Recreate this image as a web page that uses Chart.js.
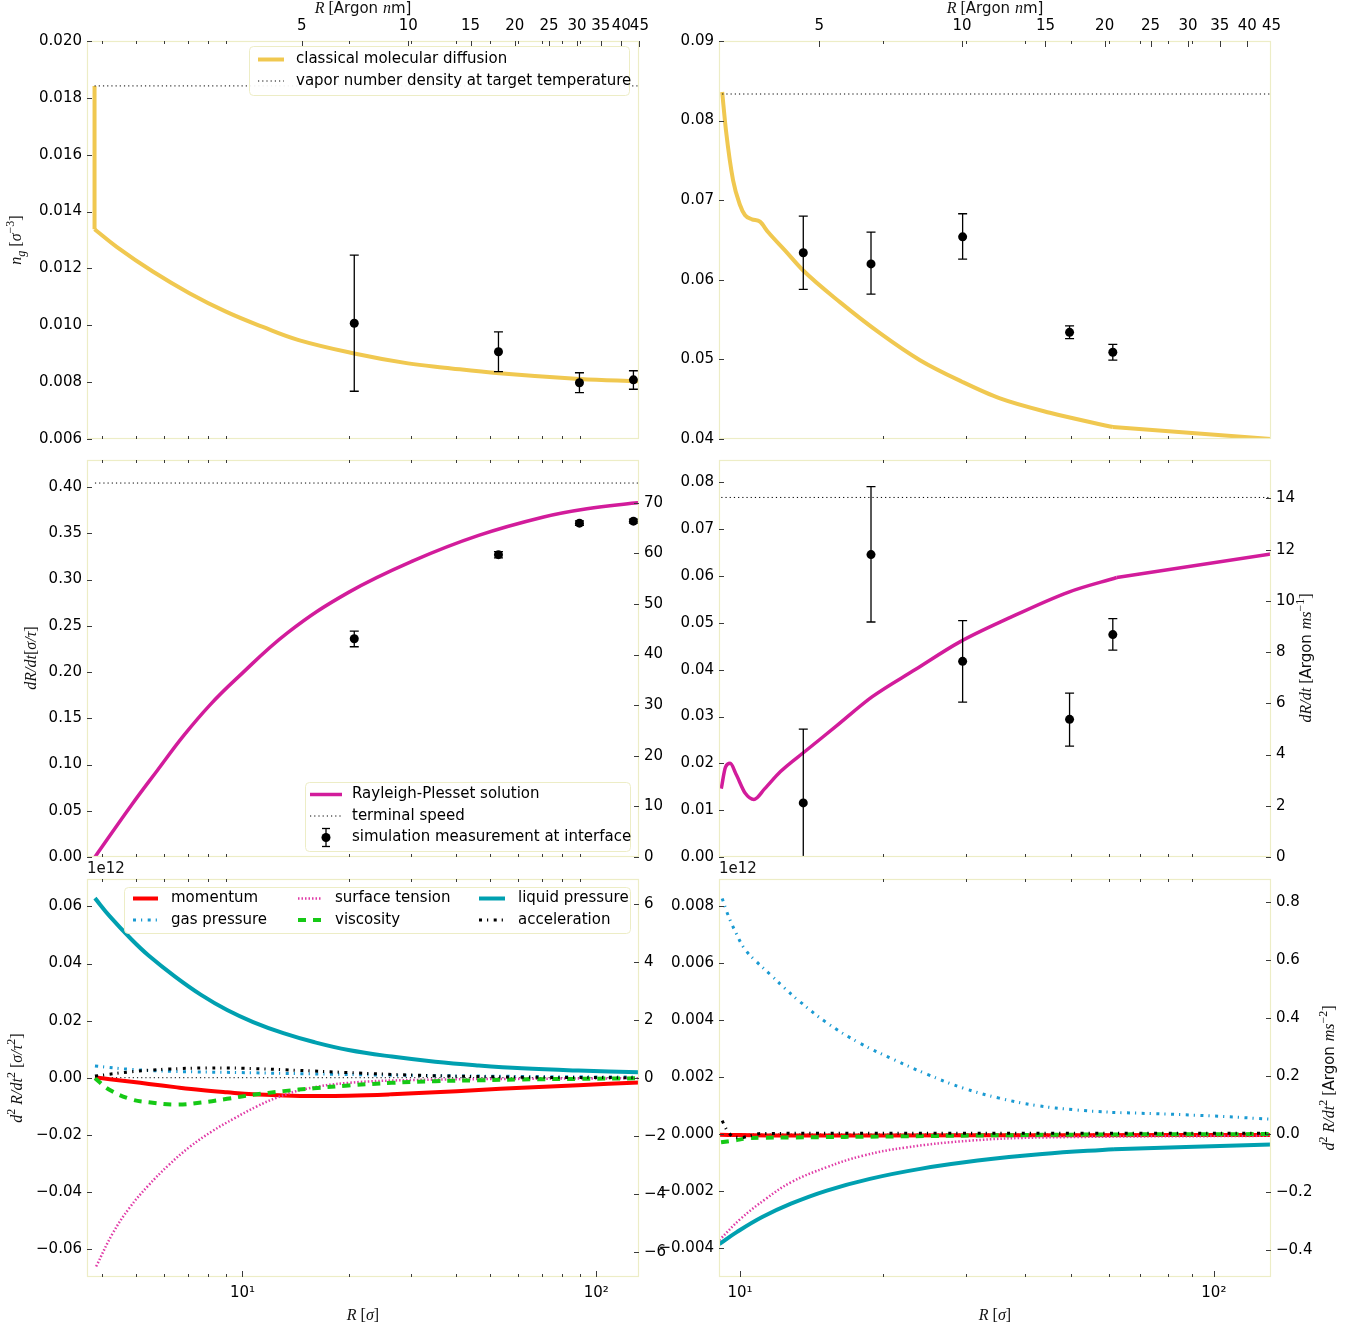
<!DOCTYPE html>
<html>
<head>
<meta charset="utf-8">
<title>Bubble growth – Rayleigh-Plesset</title>
<script src="https://cdn.jsdelivr.net/npm/chart.js@4.4.1/dist/chart.umd.min.js"></script>
<style>
html,body{margin:0;padding:0;background:#fff;}
#wrap{position:relative;width:1364px;height:1332px;overflow:hidden;background:#fff;}
#wrap canvas{position:absolute;left:0;top:0;}
</style>
</head>
<body>
<div id="wrap"></div>
<script>
// ================= DATA =================
const SIGMA_TO_NM = 0.34;      // 1 sigma (argon) in nm
const VEL_FACTOR = 182.8;      // sigma/tau -> m/s
const ACC_FACTOR = 98.5;       // sigma/tau^2 -> 1e12 m/s^2

const X_MAJOR = [10, 100];
const X_MAJOR_LABELS = ['10\u00B9', '10\u00B2'];
const X_MINOR = [4, 5, 6, 7, 8, 9, 20, 30, 40, 50, 60, 70, 80, 90];
const NM_TICKS = [5, 10, 15, 20, 25, 30, 35, 40, 45];

// (a) top-left: vapour number density
const aJumpR = [3.82, 3.82];
const aJumpN = [0.01842, 0.01338];
const aCmdR = [3.82, 4.41, 5.58, 7.08, 8.98, 11.37, 14.42, 20.70, 29.38, 37.25, 53.19, 89.6, 132];
const aCmdN = [0.01338, 0.01276, 0.01189, 0.01113, 0.01048, 0.00995, 0.00948, 0.00901, 0.00866, 0.00851, 0.00831, 0.00811, 0.00803];
const aVaporR = [3.82, 132];
const aVapor = 0.01842;
const aSimR = [20.7, 52.9, 89.6, 127.3];
const aSimN = [0.01007, 0.00907, 0.00798, 0.00808];
const aSimLo = [0.00768, 0.00837, 0.00763, 0.00775];
const aSimHi = [0.01247, 0.00977, 0.00833, 0.00840];
const aTicks = [0.006, 0.008, 0.010, 0.012, 0.014, 0.016, 0.018, 0.020];

// (b) top-right: vapour number density
const bCmdR = [9.17, 9.34, 9.67, 10.0, 10.25, 10.60, 11.02, 11.46, 12.44, 13.58, 16.25, 19.74, 23.98, 29.40, 35.37, 45.08, 61.22];
const bCmdN = [0.0836, 0.0788, 0.0725, 0.0694, 0.0681, 0.0676, 0.0673, 0.0660, 0.0637, 0.0612, 0.0572, 0.0533, 0.0499, 0.0472, 0.0451, 0.0433, 0.0415];
const bTailR = [61.22, 132];
const bTailN = [0.0415, 0.0400];
const bVaporR = [9.17, 132];
const bVapor = 0.08334;
const bSimR = [13.6, 18.9, 29.5, 49.6, 61.2];
const bSimN = [0.0634, 0.0620, 0.0654, 0.0534, 0.0509];
const bSimLo = [0.0588, 0.0582, 0.0626, 0.0526, 0.0499];
const bSimHi = [0.0680, 0.0660, 0.0683, 0.0542, 0.0519];
const bTicks = [0.04, 0.05, 0.06, 0.07, 0.08, 0.09];

// (c) middle-left: interface speed
const cRpR = [3.83, 4.86, 5.76, 6.82, 8.10, 9.57, 13.43, 19.94, 30.45, 46.50, 70.98, 94.1, 128.4, 132];
const cRpV = [0.0, 0.0562, 0.0941, 0.1312, 0.1645, 0.1920, 0.2426, 0.2861, 0.3204, 0.3477, 0.3676, 0.3765, 0.3827, 0.3830];
const cTermR = [3.83, 132];
const cTerminal = 0.4043;
const cSimR = [20.7, 52.9, 89.6, 127.3];
const cSimV = [0.2360, 0.3269, 0.3609, 0.3631];
const cSimLo = [0.2273, 0.3233, 0.3585, 0.3610];
const cSimHi = [0.2443, 0.3302, 0.3633, 0.3652];
const cTicks = [0, 0.05, 0.10, 0.15, 0.20, 0.25, 0.30, 0.35, 0.40];
const cTicks2 = [0, 10, 20, 30, 40, 50, 60, 70];

// (d) middle-right: interface speed
const dRpR = [9.13, 9.32, 9.53, 9.83, 10.26, 10.70, 11.28, 12.16, 13.81, 16.03, 18.99, 23.49, 29.05, 36.70, 49.40, 62.39];
const dRpV = [0.0146, 0.0192, 0.0200, 0.0175, 0.0136, 0.0123, 0.0146, 0.0182, 0.0228, 0.0281, 0.0342, 0.0401, 0.0459, 0.0509, 0.0566, 0.0597];
const dTailR = [62.39, 132];
const dTailV = [0.0597, 0.0647];
const dTermR = [9.13, 132];
const dTerminal = 0.0768;
const dSimR = [13.6, 18.9, 29.5, 49.6, 61.2];
const dSimV = [0.01156, 0.0646, 0.0418, 0.0294, 0.0475];
const dSimLo = [-0.0042, 0.0502, 0.0331, 0.0237, 0.0442];
const dSimHi = [0.0273, 0.0791, 0.0505, 0.0350, 0.0509];
const dTicks = [0, 0.01, 0.02, 0.03, 0.04, 0.05, 0.06, 0.07, 0.08];
const dTicks2 = [0, 2, 4, 6, 8, 10, 12, 14];

// (e) bottom-left: acceleration terms
const eR = [3.83, 4.22, 4.86, 5.44, 6.45, 7.64, 9.05, 10.72, 13.05, 15.91, 19.94, 26.44, 35.05, 46.5, 61.6, 89.0, 132];
const eLiquid = [0.0629, 0.0565, 0.0484, 0.0427, 0.0354, 0.0290, 0.0237, 0.0195, 0.0156, 0.0125, 0.0097, 0.0074, 0.0056, 0.0043, 0.0033, 0.0025, 0.0019];
const eMomentum = [0.0001, -0.0005, -0.0014, -0.0022, -0.0033, -0.0043, -0.0051, -0.0058, -0.0062, -0.0064, -0.0063, -0.0058, -0.0051, -0.0043, -0.0035, -0.0026, -0.0017];
const eViscosity = [-0.0002, -0.0043, -0.0076, -0.0086, -0.0094, -0.0087, -0.0074, -0.0060, -0.0047, -0.0037, -0.0027, -0.0018, -0.0012, -0.0009, -0.0006, -0.0004, -0.0002];
const eSurfR = [3.86, 4.3, 4.8, 5.4, 6.2, 7.1, 8.2, 9.5, 11.0, 12.5, 15.0, 19.94, 30.45, 61.6, 132];
const eSurface = [-0.0661, -0.0545, -0.0455, -0.0380, -0.0305, -0.0242, -0.0188, -0.0142, -0.0100, -0.0070, -0.0040, -0.0018, -0.0008, -0.0004, -0.0002];
const eGasR = [3.83, 4.86, 6.45, 9.85, 15.03, 26.44, 54.3, 132];
const eGas = [0.0041, 0.0029, 0.0022, 0.0018, 0.0014, 0.0009, 0.0005, 0.0002];
const eAccR = [3.83, 4.86, 6.10, 7.86, 10.13, 14.2, 19.94, 30.45, 61.6, 132];
const eAcc = [0.0006, 0.0021, 0.0030, 0.0034, 0.0033, 0.0026, 0.0018, 0.0009, 0.0002, 0.0000];
const eZeroR = [3.83, 132];
const eTicks = [-0.06, -0.04, -0.02, 0, 0.02, 0.04, 0.06];
const eTicks2 = [-6, -4, -2, 0, 2, 4, 6];

// (f) bottom-right: acceleration terms
const fGasR = [9.17, 9.44, 9.78, 10.21, 10.85, 11.64, 12.37, 13.27, 15.25, 17.84, 21.06, 24.86, 29.60, 35.24, 42.32, 50.81, 61.04];
const fGas = [0.00826, 0.00767, 0.00709, 0.00651, 0.00603, 0.00556, 0.00514, 0.00469, 0.00390, 0.00320, 0.00262, 0.00209, 0.00161, 0.00126, 0.00100, 0.00085, 0.00076];
const fGasTailR = [61.04, 79.98, 103.9, 132];
const fGasTail = [0.00076, 0.00070, 0.00062, 0.00052];
const fLiqR = [9.04, 9.86, 11.14, 12.81, 15.25, 18.80, 24.00, 31.73, 43.45, 61.56];
const fLiquid = [-0.00386, -0.00343, -0.00291, -0.00244, -0.00198, -0.00157, -0.00122, -0.00093, -0.00070, -0.00053];
const fLiqTailR = [61.56, 87.3, 132];
const fLiqTail = [-0.00053, -0.00045, -0.00037];
const fSurfR = [9.04, 10.03, 11.34, 12.81, 15.25, 18.16, 22.39, 30.64, 43.45, 132];
const fSurface = [-0.00372, -0.00297, -0.00227, -0.00169, -0.00116, -0.00076, -0.00047, -0.00023, -0.00012, -0.00006];
const fMomR = [9.04, 12, 20, 50, 132];
const fMomentum = [-0.00002, -0.00005, -0.00005, -0.00004, -0.00003];
const fVisR = [9.12, 9.69, 10.39, 11.14, 12.81, 21.6, 51.7, 132];
const fViscosity = [-0.00029, -0.00023, -0.00015, -0.00013, -0.00012, -0.00008, -0.00002, 0.0];
const fAccR = [9.17, 9.36, 9.66, 10.07, 10.48, 11.14, 20, 132];
const fAcc = [0.00047, 0.00017, -0.00008, -0.00012, -0.00006, 0.00002, 0.00003, 0.00003];
const fZeroR = [9.04, 132];
const fTicks = [-0.004, -0.002, 0, 0.002, 0.004, 0.006, 0.008];
const fTicks2 = [-0.4, -0.2, 0, 0.2, 0.4, 0.6, 0.8];

// ================= STYLE / LAYOUT =================
const W = 1364, H = 1332;
const FONT = "'DejaVu Sans', sans-serif";
const FRAME = '#EDEDC6';
const TICKC = '#3a3a3a';
Chart.defaults.font.family = FONT;
Chart.defaults.font.size = 15;
Chart.defaults.color = '#000';

const COLS = [{l: 87, r: 639, xmin: 3.637, xmax: 132}, {l: 719, r: 1271, xmin: 9.03, xmax: 132}];
const ROWS = [{t: 41, b: 439}, {t: 460, b: 857}, {t: 879, b: 1277}];

const C = {
  yellow: '#F0C850', rp: '#D21C9B', red: '#FF0000', gas: '#1A9AD2',
  surf: '#E03AA6', green: '#16C916', teal: '#00A0B0', black: '#000000'
};

const pts = (xs, ys) => xs.map((x, i) => ({x, y: ys[i]}));
const flat = (xs, v) => xs.map(() => v);
const fmt = d => v => (v < -1e-12 ? '\u2212' : '') + Math.abs(v).toFixed(d);
const SMOOTH = {cubicInterpolationMode: 'default', tension: 0.4};
const MONO = {cubicInterpolationMode: 'monotone'};
const STRAIGHT = {cubicInterpolationMode: 'default', tension: 0};

function curve(label, xs, ys, color, width, dash, extra) {
  return Object.assign({
    type: 'line', label, data: pts(xs, ys), borderColor: color, backgroundColor: color,
    borderWidth: width, borderDash: dash || [], pointRadius: 0, pointHoverRadius: 0,
    fill: false, yAxisID: 'y'
  }, SMOOTH, extra || {});
}
function hline(label, xs, v) {
  return curve(label, xs, flat(xs, v), '#000', 1, [1.2, 3], STRAIGHT);
}
function sim(label, xs, ys, lo, hi) {
  return {type: 'line', label, data: pts(xs, ys), showLine: false, pointRadius: 4.5, pointHoverRadius: 4.5,
    pointBackgroundColor: '#000', pointBorderColor: '#000', pointBorderWidth: 0,
    errLo: lo, errHi: hi, yAxisID: 'y'};
}

function segFont(s) {
  const small = !!s.v;
  if (s.f === 's') return (small ? 11 : 15) + "px 'DejaVu Sans'";
  if (s.f === 'i') return 'italic ' + (small ? 12 : 16) + "px 'Liberation Serif'";
  return (small ? 12 : 16) + "px 'Liberation Serif'";
}
function rich(ctx, segs, x, y, rot, align) {
  ctx.save();
  ctx.translate(x, y);
  ctx.rotate(rot || 0);
  const parts = segs.map(s => { ctx.font = segFont(s); return {s, font: ctx.font, w: ctx.measureText(s.t).width}; });
  const total = parts.reduce((a, p) => a + p.w, 0);
  let cx = align === 'left' ? 0 : -total / 2;
  ctx.textBaseline = 'middle';
  ctx.textAlign = 'left';
  ctx.fillStyle = '#111';
  parts.forEach(p => {
    ctx.font = p.font;
    const dy = p.s.v === 'sup' ? -6 : (p.s.v === 'sub' ? 5 : 0);
    ctx.fillText(p.s.t, cx, dy);
    cx += p.w;
  });
  ctx.restore();
}
function roundRect(ctx, x0, y0, x1, y1, r) {
  ctx.beginPath();
  ctx.moveTo(x0 + r, y0); ctx.lineTo(x1 - r, y0); ctx.arcTo(x1, y0, x1, y0 + r, r);
  ctx.lineTo(x1, y1 - r); ctx.arcTo(x1, y1, x1 - r, y1, r);
  ctx.lineTo(x0 + r, y1); ctx.arcTo(x0, y1, x0, y1 - r, r);
  ctx.lineTo(x0, y0 + r); ctx.arcTo(x0, y0, x0 + r, y0, r);
  ctx.closePath();
}

function deco(o) {
  return {
    id: 'deco',
    afterDatasetDraw(chart, args) {
      const ds = chart.data.datasets[args.index];
      if (!ds.errLo) return;
      const ctx = chart.ctx, a = chart.chartArea, ys = chart.scales.y;
      ctx.save();
      ctx.beginPath(); ctx.rect(a.left, a.top, a.right - a.left, a.bottom - a.top); ctx.clip();
      ctx.strokeStyle = '#000'; ctx.lineWidth = 1.3;
      args.meta.data.forEach((p, j) => {
        const y1 = ys.getPixelForValue(ds.errLo[j]), y2 = ys.getPixelForValue(ds.errHi[j]);
        ctx.beginPath();
        ctx.moveTo(p.x, y1); ctx.lineTo(p.x, y2);
        ctx.moveTo(p.x - 4.5, y1); ctx.lineTo(p.x + 4.5, y1);
        ctx.moveTo(p.x - 4.5, y2); ctx.lineTo(p.x + 4.5, y2);
        ctx.stroke();
      });
      ctx.restore();
    },
    afterDraw(chart) {
      const ctx = chart.ctx, a = chart.chartArea;
      const line = (x1, y1, x2, y2) => { ctx.beginPath(); ctx.moveTo(x1, y1); ctx.lineTo(x2, y2); ctx.stroke(); };
      ctx.save();
      ctx.strokeStyle = FRAME; ctx.lineWidth = 1.2;
      ctx.strokeRect(a.left + 0.5, a.top + 0.5, a.right - a.left - 1, a.bottom - a.top - 1);
      ctx.strokeStyle = TICKC; ctx.lineWidth = 1;
      const xs = chart.scales.x;
      X_MINOR.forEach(v => {
        if (v < xs.min || v > xs.max) return;
        const px = Math.round(xs.getPixelForValue(v)) + 0.5;
        line(px, a.bottom, px, a.bottom - 3);
        line(px, a.top, px, a.top + 3);
      });
      if (o.xLabels) X_MAJOR.forEach(v => {
        const px = Math.round(xs.getPixelForValue(v)) + 0.5;
        line(px, a.bottom, px, a.bottom - 6);
      });
      if (chart.scales.xTop) NM_TICKS.forEach(v => {
        const px = Math.round(chart.scales.xTop.getPixelForValue(v)) + 0.5;
        if (px > a.right + 1) return;
        line(px, a.top, px, a.top + 6);
      });
      chart.scales.y.ticks.forEach(t => {
        const py = Math.round(chart.scales.y.getPixelForValue(t.value)) + 0.5;
        line(a.left, py, a.left + 5, py);
      });
      if (chart.scales.y2) chart.scales.y2.ticks.forEach(t => {
        const py = Math.round(chart.scales.y2.getPixelForValue(t.value)) + 0.5;
        line(a.right - 5, py, a.right, py);
      });
      if (o.legend) {
        const L = o.legend;
        roundRect(ctx, L.box[0] + 0.5, L.box[1] + 0.5, L.box[2] + 0.5, L.box[3] + 0.5, 4);
        ctx.fillStyle = 'rgba(255,255,255,0.92)'; ctx.fill();
        ctx.strokeStyle = FRAME; ctx.lineWidth = 1; ctx.stroke();
        L.items.forEach(it => {
          const ds = chart.data.datasets[it.ds];
          if (ds.showLine === false) {
            const cx = (it.sx[0] + it.sx[1]) / 2;
            ctx.strokeStyle = '#000'; ctx.lineWidth = 1.3; ctx.setLineDash([]);
            line(cx, it.y - 9, cx, it.y + 9);
            line(cx - 4, it.y - 9, cx + 4, it.y - 9);
            line(cx - 4, it.y + 9, cx + 4, it.y + 9);
            ctx.fillStyle = '#000'; ctx.beginPath(); ctx.arc(cx, it.y, 4.5, 0, Math.PI * 2); ctx.fill();
          } else {
            ctx.strokeStyle = ds.borderColor; ctx.lineWidth = ds.borderWidth;
            ctx.setLineDash(ds.borderDash || []);
            line(it.sx[0], it.y, it.sx[1], it.y);
            ctx.setLineDash([]);
          }
          ctx.fillStyle = '#000'; ctx.font = "15px 'DejaVu Sans'";
          ctx.textBaseline = 'middle'; ctx.textAlign = 'left';
          ctx.fillText(ds.label, it.tx, it.y);
        });
      }
      ctx.restore();
      (o.texts || []).forEach(t => rich(ctx, t.segs, t.x, t.y, t.rot, t.align));
    }
  };
}

function panel(o) {
  const c = COLS[o.col], r = ROWS[o.row];
  const LW = 70, RW = 45, TH = 40, BH = 40;
  const cv = document.createElement('canvas');
  cv.width = W; cv.height = H;
  document.getElementById('wrap').appendChild(cv);
  const setTicks = vals => s => { s.ticks = vals.map(v => ({value: v})); };
  const noGrid = {display: false, drawTicks: false};
  const scales = {
    x: {type: 'logarithmic', position: 'bottom', bounds: 'data', min: c.xmin, max: c.xmax,
      grid: noGrid, border: {display: false},
      ticks: {display: !!o.xLabels, autoSkip: false, maxRotation: 0, minRotation: 0, padding: 7, color: '#000',
        callback: v => { const k = X_MAJOR.indexOf(v); return k >= 0 ? X_MAJOR_LABELS[k] : ''; }},
      afterBuildTicks: setTicks(X_MAJOR), afterFit: s => { s.height = o.xLabels ? BH : 0; }},
    y: {type: 'linear', position: 'left', bounds: 'data', min: o.y.min, max: o.y.max,
      grid: noGrid, border: {display: false},
      ticks: {autoSkip: false, padding: 5, color: '#000', callback: o.y.fmt},
      afterBuildTicks: setTicks(o.y.ticks), afterFit: s => { s.width = LW; }}
  };
  if (o.top) scales.xTop = {type: 'logarithmic', position: 'top', bounds: 'data',
    min: c.xmin * SIGMA_TO_NM, max: c.xmax * SIGMA_TO_NM, grid: noGrid, border: {display: false},
    ticks: {autoSkip: false, maxRotation: 0, minRotation: 0, padding: 6, color: '#000', callback: v => String(v)},
    afterBuildTicks: setTicks(NM_TICKS), afterFit: s => { s.height = TH; }};
  if (o.y2) scales.y2 = {type: 'linear', position: 'right', bounds: 'data',
    min: o.y.min * o.y2.factor, max: o.y.max * o.y2.factor, grid: noGrid, border: {display: false},
    ticks: {autoSkip: false, padding: 5, color: '#000', callback: o.y2.fmt},
    afterBuildTicks: setTicks(o.y2.ticks), afterFit: s => { s.width = RW; }};
  const padding = {left: c.l - LW, right: W - c.r - (o.y2 ? RW : 0),
    top: r.t - (o.top ? TH : 0), bottom: H - r.b - (o.xLabels ? BH : 0)};
  o.datasets.forEach((d, i) => { d.order = -i; });
  return new Chart(cv, {
    type: 'line',
    data: {datasets: o.datasets},
    options: {responsive: false, animation: false, events: [], layout: {padding},
      plugins: {legend: {display: false}, tooltip: {enabled: false}}, scales},
    plugins: [deco(o)]
  });
}

// ================= TITLES =================
const T_R_NM = [{t: 'R', f: 'i'}, {t: ' [', f: 'r'}, {t: 'Argon ', f: 's'}, {t: 'n', f: 'i'}, {t: 'm]', f: 's'}];
const T_R_SIG = [{t: 'R', f: 'i'}, {t: ' [', f: 'r'}, {t: '\u03C3', f: 'i'}, {t: ']', f: 'r'}];
const T_NG = [{t: 'n', f: 'i'}, {t: 'g', f: 'i', v: 'sub'}, {t: ' [', f: 'r'}, {t: '\u03C3', f: 'i'}, {t: '\u22123', f: 'r', v: 'sup'}, {t: ']', f: 'r'}];
const T_V = [{t: 'dR/dt', f: 'i'}, {t: '[', f: 'r'}, {t: '\u03C3/\u03C4', f: 'i'}, {t: ']', f: 'r'}];
const T_VA = [{t: 'dR/dt', f: 'i'}, {t: ' [', f: 'r'}, {t: 'Argon ', f: 's'}, {t: 'ms', f: 'i'}, {t: '\u22121', f: 'r', v: 'sup'}, {t: ']', f: 'r'}];
const T_A = [{t: 'd', f: 'i'}, {t: '2', f: 'r', v: 'sup'}, {t: ' R/dt', f: 'i'}, {t: '2', f: 'r', v: 'sup'}, {t: ' [', f: 'r'}, {t: '\u03C3/\u03C4', f: 'i'}, {t: '2', f: 'r', v: 'sup'}, {t: ']', f: 'r'}];
const T_AA = [{t: 'd', f: 'i'}, {t: '2', f: 'r', v: 'sup'}, {t: ' R/dt', f: 'i'}, {t: '2', f: 'r', v: 'sup'}, {t: ' [', f: 'r'}, {t: 'Argon ', f: 's'}, {t: 'ms', f: 'i'}, {t: '\u22122', f: 'r', v: 'sup'}, {t: ']', f: 'r'}];
const T_OFF = [{t: '1e12', f: 's'}];
const UP = -Math.PI / 2;

// ================= PANELS =================
panel({
  col: 0, row: 0, top: true, xLabels: false,
  y: {min: 0.006, max: 0.020, ticks: aTicks, fmt: fmt(3)},
  datasets: [
    curve('classical molecular diffusion', aJumpR, aJumpN, C.yellow, 4, [], STRAIGHT),
    curve('classical molecular diffusion', aCmdR, aCmdN, C.yellow, 4),
    hline('vapor number density at target temperature', aVaporR, aVapor),
    sim('simulation measurement at interface', aSimR, aSimN, aSimLo, aSimHi)
  ],
  legend: {box: [249, 46, 629, 95], items: [
    {ds: 1, sx: [258, 284], y: 59.5, tx: 296},
    {ds: 2, sx: [258, 284], y: 81, tx: 296}
  ]},
  texts: [
    {segs: T_R_NM, x: 363, y: 9},
    {segs: T_NG, x: 17, y: 240, rot: UP}
  ]
});

panel({
  col: 1, row: 0, top: true, xLabels: false,
  y: {min: 0.04, max: 0.09, ticks: bTicks, fmt: fmt(2)},
  datasets: [
    curve('classical molecular diffusion', bCmdR, bCmdN, C.yellow, 4, [], MONO),
    curve('', bTailR, bTailN, C.yellow, 4, [], STRAIGHT),
    hline('vapor number density at target temperature', bVaporR, bVapor),
    sim('simulation measurement at interface', bSimR, bSimN, bSimLo, bSimHi)
  ],
  texts: [{segs: T_R_NM, x: 995, y: 9}]
});

panel({
  col: 0, row: 1, xLabels: false,
  y: {min: 0, max: 0.4292, ticks: cTicks, fmt: fmt(2)},
  y2: {factor: VEL_FACTOR, ticks: cTicks2, fmt: fmt(0)},
  datasets: [
    curve('Rayleigh-Plesset solution', cRpR, cRpV, C.rp, 3.5),
    hline('terminal speed', cTermR, cTerminal),
    sim('simulation measurement at interface', cSimR, cSimV, cSimLo, cSimHi)
  ],
  legend: {box: [305, 782, 630, 851], items: [
    {ds: 0, sx: [310, 342], y: 794.5, tx: 352},
    {ds: 1, sx: [310, 342], y: 816, tx: 352},
    {ds: 2, sx: [310, 342], y: 837.5, tx: 352}
  ]},
  texts: [{segs: T_V, x: 32, y: 658, rot: UP}]
});

panel({
  col: 1, row: 1, xLabels: false,
  y: {min: 0, max: 0.0848, ticks: dTicks, fmt: fmt(2)},
  y2: {factor: VEL_FACTOR, ticks: dTicks2, fmt: fmt(0)},
  datasets: [
    curve('Rayleigh-Plesset solution', dRpR, dRpV, C.rp, 3.5, [], MONO),
    curve('', dTailR, dTailV, C.rp, 3.5, [], STRAIGHT),
    hline('terminal speed', dTermR, dTerminal),
    sim('simulation measurement at interface', dSimR, dSimV, dSimLo, dSimHi)
  ],
  texts: [{segs: T_VA, x: 1307, y: 658, rot: UP}]
});

const DASH_GAS = [3, 5, 1.2, 5.5];
panel({
  col: 0, row: 2, xLabels: true,
  y: {min: -0.0698, max: 0.0696, ticks: eTicks, fmt: fmt(2)},
  y2: {factor: ACC_FACTOR, ticks: eTicks2, fmt: fmt(0)},
  datasets: [
    hline('', eZeroR, 0),
    curve('momentum', eR, eMomentum, C.red, 4),
    curve('gas pressure', eGasR, eGas, C.gas, 3, DASH_GAS),
    curve('surface tension', eSurfR, eSurface, C.surf, 2.5, [1.5, 2]),
    curve('viscosity', eR, eViscosity, C.green, 4, [8, 7]),
    curve('liquid pressure', eR, eLiquid, C.teal, 4),
    curve('acceleration', eAccR, eAcc, C.black, 3, DASH_GAS)
  ],
  legend: {box: [124, 887, 630, 933], items: [
    {ds: 1, sx: [133, 158], y: 898.5, tx: 171},
    {ds: 2, sx: [133, 158], y: 920, tx: 171},
    {ds: 3, sx: [298, 322], y: 898.5, tx: 335},
    {ds: 4, sx: [298, 322], y: 920, tx: 335},
    {ds: 5, sx: [479, 505], y: 898.5, tx: 518},
    {ds: 6, sx: [479, 505], y: 920, tx: 518}
  ]},
  texts: [
    {segs: T_A, x: 18, y: 1078, rot: UP},
    {segs: T_R_SIG, x: 363, y: 1316},
    {segs: T_OFF, x: 87, y: 869, align: 'left'}
  ]
});

panel({
  col: 1, row: 2, xLabels: true,
  y: {min: -0.00501, max: 0.00894, ticks: fTicks, fmt: fmt(3)},
  y2: {factor: ACC_FACTOR, ticks: fTicks2, fmt: fmt(1)},
  datasets: [
    hline('', fZeroR, 0),
    curve('momentum', fMomR, fMomentum, C.red, 4),
    curve('gas pressure', fGasR, fGas, C.gas, 3, DASH_GAS),
    curve('', fGasTailR, fGasTail, C.gas, 3, DASH_GAS, STRAIGHT),
    curve('surface tension', fSurfR, fSurface, C.surf, 2.5, [1.5, 2]),
    curve('viscosity', fVisR, fViscosity, C.green, 4, [8, 7]),
    curve('liquid pressure', fLiqR, fLiquid, C.teal, 4),
    curve('', fLiqTailR, fLiqTail, C.teal, 4, [], STRAIGHT),
    curve('acceleration', fAccR, fAcc, C.black, 3, DASH_GAS, MONO)
  ],
  texts: [
    {segs: T_AA, x: 1330, y: 1078, rot: UP},
    {segs: T_R_SIG, x: 995, y: 1316},
    {segs: T_OFF, x: 719, y: 869, align: 'left'}
  ]
});
</script>
</body>
</html>
